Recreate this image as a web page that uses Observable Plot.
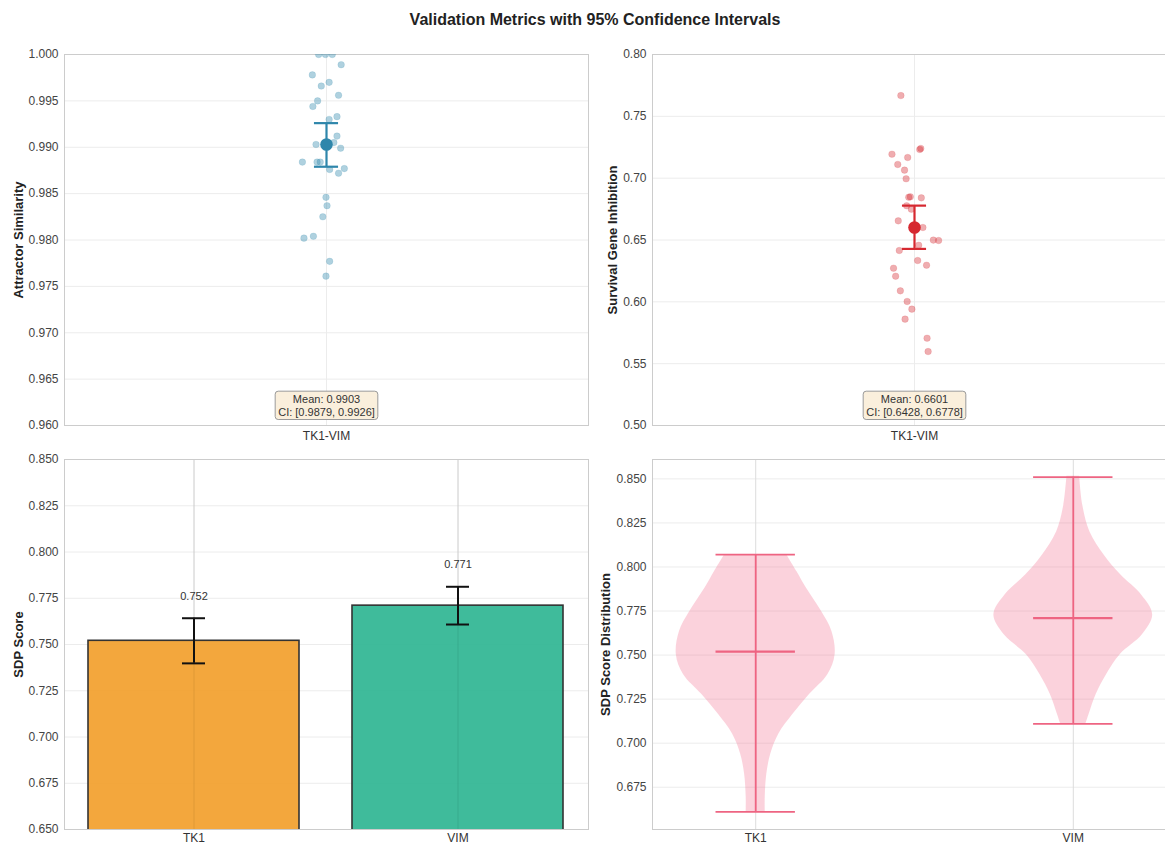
<!DOCTYPE html>
<html><head><meta charset="utf-8">
<script src="https://cdn.jsdelivr.net/npm/d3@7"></script>
<script src="https://cdn.jsdelivr.net/npm/@observablehq/plot@0.6"></script>
<style>
html,body{margin:0;padding:0;background:#fff;overflow:hidden}
#wrap{position:relative;width:1165px;height:844px;overflow:hidden;font-family:"Liberation Sans",Arial,sans-serif}
#title{position:absolute;left:0;width:1190px;top:11px;line-height:18px;text-align:center;font-weight:bold;font-size:16px;color:#222}
.panel{position:absolute}
.panel svg{max-width:none !important;display:block}
g[aria-label="y-axis label"] text{font-weight:bold;font-size:13px;fill:#222}
</style></head>
<body>
<div id="wrap"><div id="title">Validation Metrics with 95% Confidence Intervals</div></div>
<script>
// ---------- data ----------
const pairLabel = "TK1-VIM";
// Attractor similarity samples (values and read-off jitter offsets)
const simValues = [1.0000,1.0000,1.0000,0.9989,0.9978,0.9970,0.9966,0.9956,0.9950,0.9944,0.9933,0.9930,0.9912,0.9903,0.9905,0.9899,0.9884,0.9884,0.9884,0.9876,0.9872,0.9877,0.9846,0.9837,0.9825,0.9802,0.9804,0.9777,0.9761];
const simJitter = [-0.015,-0.002,0.011,0.028,-0.027,0.005,-0.010,0.023,-0.017,-0.026,0.020,0.005,0.020,-0.020,0.014,0.027,-0.046,-0.018,-0.012,0.006,0.023,0.034,-0.001,0.001,-0.007,-0.043,-0.025,0.006,-0.001];
const simMean = 0.9903;
const simCI = [0.9879, 0.9926];
// Survival gene inhibition samples
const survValues = [0.7668,0.7232,0.7240,0.7194,0.7167,0.7111,0.7065,0.6995,0.6846,0.6849,0.6841,0.6777,0.6749,0.6655,0.6601,0.6499,0.6496,0.6458,0.6415,0.6334,0.6296,0.6272,0.6207,0.6089,0.6003,0.5941,0.5860,0.5706,0.5598];
const survJitter = [-0.026,0.010,0.012,-0.043,-0.013,-0.032,-0.019,-0.016,-0.011,-0.008,0.013,-0.015,-0.006,-0.031,0.016,0.036,0.046,0.008,-0.029,0.006,0.023,-0.040,-0.036,-0.027,-0.014,-0.005,-0.018,0.024,0.026];
const survMean = 0.6601;
const survCI = [0.6428, 0.6778];
// SDP scores per gene
const genes = ["TK1", "VIM"];
const sdpMeans = [0.752, 0.771];
const sdpErr = [0.0122, 0.0102];
const sdpMin = [0.661, 0.711];
const sdpMax = [0.807, 0.851];
// violin density profiles (normalised)
const tk1Y = [0.661,0.6694,0.6825,0.6938,0.7051,0.7164,0.7277,0.739,0.7502,0.7634,0.7747,0.7879,0.7973,0.807];
const tk1D = [0.12,0.12,0.14,0.19,0.29,0.47,0.68,0.91,1.0,0.96,0.83,0.64,0.52,0.39];
const vimY = [0.711,0.7164,0.7277,0.739,0.7502,0.7615,0.7728,0.7841,0.7954,0.8067,0.8199,0.8349,0.8515];
const vimD = [0.16,0.20,0.29,0.42,0.59,0.87,1.0,0.86,0.60,0.39,0.21,0.12,0.08];
// tick values
const simTicks = d3.range(0, 9).map(i => +(0.960 + i * 0.005).toFixed(3));
const survTicks = d3.range(0, 7).map(i => +(0.50 + i * 0.05).toFixed(2));
const sdpTicks = d3.range(0, 9).map(i => +(0.650 + i * 0.025).toFixed(3));
const violinTicks = d3.range(0, 8).map(i => +(0.675 + i * 0.025).toFixed(3));

// ---------- layout ----------
const wrap = document.getElementById("wrap");
const FW = 524;
const style = {fontFamily: '"Liberation Sans", Arial, sans-serif', fontSize: "12px", color: "#444", background: "transparent", overflow: "visible"};
const gridStroke = "#ececec";
const vGridStroke = "#dcdcdc";

function place(svg, frameLeft, frameTop, ml, mt, w, h) {
  const div = document.createElement("div");
  div.className = "panel";
  div.style.left = (frameLeft - ml) + "px";
  div.style.top = (frameTop - mt) + "px";
  div.style.width = w + "px";
  div.style.height = h + "px";
  svg.setAttribute("width", w);
  svg.setAttribute("height", h);
  svg.style.width = w + "px";
  svg.style.height = h + "px";
  div.appendChild(svg);
  wrap.appendChild(div);
  // draw annotation boxes behind text
  svg.querySelectorAll("g.anno text").forEach(t => {
    const b = t.getBBox();
    const pad = 3;
    const r = document.createElementNS("http://www.w3.org/2000/svg", "rect");
    r.setAttribute("x", b.x - pad);
    r.setAttribute("y", b.y - pad + 1);
    r.setAttribute("width", b.width + 2 * pad);
    r.setAttribute("height", b.height + 2 * pad - 2);
    r.setAttribute("rx", 3);
    r.setAttribute("fill", "#faefdc");
    r.setAttribute("stroke", "#9a9a9a");
    r.setAttribute("stroke-width", 1);
    if (t.getAttribute("transform")) r.setAttribute("transform", t.getAttribute("transform"));
    t.parentNode.insertBefore(r, t);
  });
}

function scatterPanel({values, jitter, mean, ci, ticks, fmt, domain, color, label, labelOffset, frameLeft}) {
  const ml = 64, mt = 12, mr = 12, mb = 30, FH = 371;
  const idx = d3.range(values.length);
  const cap = 0.023;
  const stat = [{x: 0, mean, lo: ci[0], hi: ci[1]}];
  const W = ml + FW + mr, H = mt + FH + mb;
  const svg = Plot.plot({
    width: W, height: H,
    marginLeft: ml, marginTop: mt, marginRight: mr, marginBottom: mb,
    style,
    x: {domain: [-0.5, 0.5]},
    y: {domain},
    marks: [
      Plot.gridY(ticks, {stroke: gridStroke, strokeOpacity: 1}),
      Plot.gridX([0], {stroke: gridStroke, strokeOpacity: 1}),
      Plot.frame({stroke: "#cccccc"}),
      Plot.axisY(ticks, {tickSize: 0, tickPadding: 6, tickFormat: d3.format(fmt), label, labelAnchor: "center", labelArrow: "none", labelOffset, fill: "#444"}),
      Plot.axisX([0], {tickSize: 0, tickPadding: 6, tickFormat: () => pairLabel, label: null, fill: "#333"}),
      Plot.dot(idx, {x: i => jitter[i], y: i => values[i], r: 3.3, fill: color, fillOpacity: 0.38, stroke: color, strokeOpacity: 0.18, strokeWidth: 0.8, clip: true}),
      Plot.ruleX(stat, {x: "x", y1: "lo", y2: "hi", stroke: color, strokeWidth: 2.2}),
      Plot.ruleY(stat, {y: "lo", x1: d => d.x - cap, x2: d => d.x + cap, stroke: color, strokeWidth: 2.2}),
      Plot.ruleY(stat, {y: "hi", x1: d => d.x - cap, x2: d => d.x + cap, stroke: color, strokeWidth: 2.2}),
      Plot.dot(stat, {x: "x", y: "mean", r: 6.3, fill: color}),
      Plot.text(stat, {x: "x", frameAnchor: "bottom", dy: -10, lineAnchor: "bottom", lineHeight: 1.12,
        text: d => `Mean: ${d.mean.toFixed(4)}\nCI: [${d.lo.toFixed(4)}, ${d.hi.toFixed(4)}]`,
        fontSize: 11, fill: "#333", className: "anno"})
    ]
  });
  place(svg, frameLeft, 54, ml, mt, W, H);
}

scatterPanel({values: simValues, jitter: simJitter, mean: simMean, ci: simCI, ticks: simTicks, fmt: ".3f",
  domain: [0.96, 1.0], color: "#2e86ab", label: "Attractor Similarity", labelOffset: 51, frameLeft: 64});
scatterPanel({values: survValues, jitter: survJitter, mean: survMean, ci: survCI, ticks: survTicks, fmt: ".2f",
  domain: [0.50, 0.80], color: "#d62830", label: "Survival Gene Inhibition", labelOffset: 45, frameLeft: 652});

// ---------- bar panel ----------
{
  const ml = 64, mt = 12, mr = 12, mb = 15, FH = 370;
  const rows = genes.map((g, i) => ({gene: g, mean: sdpMeans[i], err: sdpErr[i]}));
  const barColors = ["#f2a02c", "#2fb593"];
  const W = ml + FW + mr, H = mt + FH + mb;
  const svg = Plot.plot({
    width: W, height: H,
    marginLeft: ml, marginTop: mt, marginRight: mr, marginBottom: mb,
    style,
    x: {domain: genes, paddingInner: 0.2, paddingOuter: 0.09, align: 0.5},
    y: {domain: [0.65, 0.85]},
    color: {domain: genes, range: barColors},
    marks: [
      Plot.gridY(sdpTicks, {stroke: gridStroke, strokeOpacity: 1}),
      Plot.gridX(genes, {stroke: vGridStroke, strokeOpacity: 1}),
      Plot.barY(rows, {x: "gene", y1: 0, y2: "mean", fill: "gene", fillOpacity: 0.92, stroke: "#333", strokeWidth: 1.6, clip: true}),
      Plot.gridX(genes, {stroke: "#000", strokeOpacity: 0.07}),
      Plot.frame({stroke: "#cccccc"}),
      Plot.axisY(sdpTicks, {tickSize: 0, tickPadding: 6, tickFormat: d3.format(".3f"), label: "SDP Score", labelAnchor: "center", labelArrow: "none", labelOffset: 51, fill: "#444"}),
      Plot.axisX(genes, {tickSize: 0, tickPadding: 4, label: null, fill: "#333"}),
      Plot.ruleX(rows, {x: "gene", y1: d => d.mean - d.err, y2: d => d.mean + d.err, stroke: "#111", strokeWidth: 2}),
      Plot.tickY(rows, {x: "gene", y: d => d.mean - d.err, insetLeft: 94, insetRight: 94, stroke: "#111", strokeWidth: 2}),
      Plot.tickY(rows, {x: "gene", y: d => d.mean + d.err, insetLeft: 94, insetRight: 94, stroke: "#111", strokeWidth: 2}),
      Plot.text(rows, {x: "gene", y: d => d.mean + d.err + 0.01, text: d => d.mean.toFixed(3), lineAnchor: "bottom", fontSize: 11, fill: "#333"})
    ]
  });
  place(svg, 64, 459, ml, mt, W, H);
}

// ---------- violin panel ----------
{
  const ml = 60, mt = 12, mr = 12, mb = 15, FH = 370;
  const profiles = [
    ...tk1Y.map((y, i) => ({gene: "TK1", pos: 1, y, d: tk1D[i]})),
    ...vimY.map((y, i) => ({gene: "VIM", pos: 2, y, d: vimD[i]}))
  ];
  const stats = genes.map((g, i) => ({gene: g, pos: i + 1, mean: sdpMeans[i], min: sdpMin[i], max: sdpMax[i]}));
  const capW = 0.125;
  const lineColor = "#ee6482";
  const W = ml + FW + mr, H = mt + FH + mb;
  const svg = Plot.plot({
    width: W, height: H,
    marginLeft: ml, marginTop: mt, marginRight: mr, marginBottom: mb,
    style,
    x: {domain: [0.675, 2.325]},
    y: {domain: [0.651, 0.861]},
    marks: [
      Plot.gridY(violinTicks, {stroke: gridStroke, strokeOpacity: 1}),
      Plot.gridX([1, 2], {stroke: vGridStroke, strokeOpacity: 1}),
      Plot.areaX(profiles, {y: "y", x1: d => d.pos - 0.25 * d.d, x2: d => d.pos + 0.25 * d.d, z: "gene", fill: "#f26a8c", fillOpacity: 0.3, curve: "catmull-rom"}),
      Plot.frame({stroke: "#cccccc"}),
      Plot.axisY(violinTicks, {tickSize: 0, tickPadding: 6, tickFormat: d3.format(".3f"), label: "SDP Score Distribution", labelAnchor: "center", labelArrow: "none", labelOffset: 52, fill: "#444"}),
      Plot.axisX([1, 2], {tickSize: 0, tickPadding: 4, tickFormat: d => genes[d - 1], label: null, fill: "#333"}),
      Plot.ruleX(stats, {x: "pos", y1: "min", y2: "max", stroke: lineColor, strokeWidth: 1.8}),
      Plot.ruleY(stats, {y: "min", x1: d => d.pos - capW, x2: d => d.pos + capW, stroke: lineColor, strokeWidth: 1.8}),
      Plot.ruleY(stats, {y: "max", x1: d => d.pos - capW, x2: d => d.pos + capW, stroke: lineColor, strokeWidth: 1.8}),
      Plot.ruleY(stats, {y: "mean", x1: d => d.pos - capW, x2: d => d.pos + capW, stroke: lineColor, strokeWidth: 2.2})
    ]
  });
  place(svg, 652, 459, ml, mt, W, H);
}
</script>
</body></html>
